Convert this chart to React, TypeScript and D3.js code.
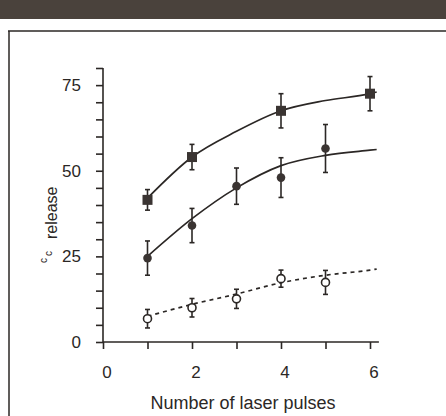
import React, { useRef, useEffect } from 'react';
import * as d3 from 'd3';

const squareX = [1, 2, 4, 6];
const squareY = [41.5, 54, 67.5, 72.5];
const squareErr = [3, 3.7, 5, 5];

const filledX = [1, 2, 3, 4, 5];
const filledY = [24.5, 34, 45.5, 48, 56.5];
const filledErr = [5, 5, 5.3, 5.8, 7];

const openX = [1, 2, 3, 4, 5];
const openY = [6.8, 10, 12.6, 18.5, 17.4];
const openErr = [2.7, 2.7, 2.8, 2.5, 3.5];

// fitted curves drawn through the data
const fitX = [1, 2, 3, 4, 5, 6, 6.15];
const squareFit = [42, 54, 61.5, 67.5, 70.5, 72.5, 73];
const filledFit = [25, 36, 45, 51.5, 54.5, 56, 56.2];
const openFit = [7.5, 11, 14, 17.3, 19.5, 21, 21.3];

const xTicks = [0, 1, 2, 3, 4, 5, 6];
const xLabels = [0, 2, 4, 6];
const yLabels = [0, 25, 50, 75];

const ink = '#2b2725';

const App = () => {
  const svgRef = useRef<SVGSVGElement>(null);
  const width = 446;
  const height = 416;
  const margin = { top: 68, left: 103 };

  useEffect(() => {
    document.body.style.margin = '0';
    const svg = d3.select(svgRef.current);
    svg.selectAll('*').remove();

    const x = d3.scaleLinear().domain([0, 6]).range([103, 370]);
    const y = d3.scaleLinear().domain([0, 80]).range([342, 68]);

    // scan artefacts: dark strip at top and the frame
    svg.append('rect').attr('x', 0).attr('y', 0).attr('width', width).attr('height', 19).attr('fill', '#4a423c');
    svg.append('line').attr('x1', 8).attr('x2', width).attr('y1', 31).attr('y2', 31).attr('stroke', ink).attr('stroke-width', 1.5);
    svg.append('line').attr('x1', 9).attr('x2', 9).attr('y1', 31).attr('y2', height).attr('stroke', ink).attr('stroke-width', 1.5);

    const font = 'Liberation Sans, Arial, sans-serif';

    // y axis
    const yAxis = svg.append('g').attr('transform', `translate(${margin.left},0)`)
      .call(d3.axisLeft(y).tickValues(d3.range(0, 81, 5)).tickSize(7).tickFormat(() => '').tickSizeOuter(0));
    yAxis.selectAll('line, path').attr('stroke', ink).attr('stroke-width', 1.6);
    yAxis.select('path').attr('d', `M0,${y(80)}V${y(0)}`);

    svg.selectAll('.ylab').data(yLabels).join('text')
      .attr('x', 81).attr('y', d => y(d)).attr('dy', '0.36em')
      .attr('text-anchor', 'end').attr('font-family', font).attr('font-size', 17).attr('fill', ink)
      .text(d => d);

    // x axis
    const xAxis = svg.append('g').attr('transform', `translate(0,${y(0)})`)
      .call(d3.axisBottom(x).tickValues(xTicks).tickSize(7).tickFormat(() => '').tickSizeOuter(0));
    xAxis.selectAll('line, path').attr('stroke', ink).attr('stroke-width', 1.6);
    xAxis.select('path').attr('d', `M${x(0)},0H${x(6.2)}`);

    svg.selectAll('.xlab').data(xLabels).join('text')
      .attr('x', d => x(d) + 4).attr('y', 372).attr('dy', '0.36em')
      .attr('text-anchor', 'middle').attr('font-family', font).attr('font-size', 17).attr('fill', ink)
      .text(d => d);

    svg.append('text').attr('x', 243).attr('y', 403).attr('dy', '0.36em')
      .attr('text-anchor', 'middle').attr('font-family', font).attr('font-size', 18).attr('fill', ink)
      .text('Number of laser pulses');

    const yl = svg.append('text').attr('transform', 'translate(57,263) rotate(-90)')
      .attr('text-anchor', 'start').attr('font-family', font).attr('font-size', 16).attr('fill', ink);
    yl.append('tspan').attr('font-size', 10).attr('dy', -10).text('c');
    yl.append('tspan').attr('font-size', 10).attr('dx', 2).attr('dy', 5).text('c');
    yl.append('tspan').attr('dx', 12).attr('dy', 5).text('release');

    // fitted curves
    const line = d3.line<number>().x((_, i) => x(fitX[i])).y(d => y(d)).curve(d3.curveMonotoneX);
    svg.append('path').attr('d', line(squareFit)).attr('fill', 'none').attr('stroke', ink).attr('stroke-width', 1.7);
    svg.append('path').attr('d', line(filledFit)).attr('fill', 'none').attr('stroke', ink).attr('stroke-width', 1.7);
    svg.append('path').attr('d', line(openFit)).attr('fill', 'none').attr('stroke', ink).attr('stroke-width', 1.7)
      .attr('stroke-dasharray', '4,4');

    // error bars
    const errBars = (xs: number[], ys: number[], es: number[]) => {
      const g = svg.append('g').attr('stroke', ink).attr('stroke-width', 1.6);
      xs.forEach((xv, i) => {
        const cx = x(xv);
        g.append('line').attr('x1', cx).attr('x2', cx).attr('y1', y(ys[i] - es[i])).attr('y2', y(ys[i] + es[i]));
        [ys[i] - es[i], ys[i] + es[i]].forEach(v => {
          g.append('line').attr('x1', cx - 2.5).attr('x2', cx + 2.5).attr('y1', y(v)).attr('y2', y(v));
        });
      });
    };
    errBars(squareX, squareY, squareErr);
    errBars(filledX, filledY, filledErr);
    errBars(openX, openY, openErr);

    // markers
    svg.selectAll('.sq').data(squareX).join('rect')
      .attr('x', d => x(d) - 5).attr('y', (_, i) => y(squareY[i]) - 5)
      .attr('width', 10).attr('height', 10).attr('fill', '#3a3432');
    svg.selectAll('.fc').data(filledX).join('circle')
      .attr('cx', d => x(d)).attr('cy', (_, i) => y(filledY[i])).attr('r', 4.3).attr('fill', '#3a3432');
    svg.selectAll('.oc').data(openX).join('circle')
      .attr('cx', d => x(d)).attr('cy', (_, i) => y(openY[i])).attr('r', 4)
      .attr('fill', '#fff').attr('stroke', ink).attr('stroke-width', 1.6);
  }, []);

  return <svg ref={svgRef} width={width} height={height} style={{ display: 'block', background: '#fff' }} />;
};

export default App;
